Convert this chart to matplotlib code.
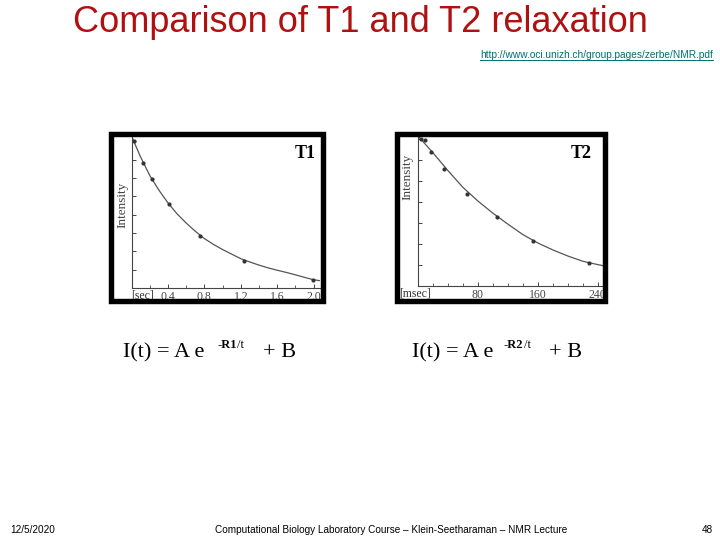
import numpy as np
import matplotlib
matplotlib.use('Agg')
import matplotlib.pyplot as plt
from matplotlib.patches import Rectangle
from matplotlib.lines import Line2D

# T1 panel (time in sec, intensity in arbitrary tick units)
t1_time = [0.03, 0.13, 0.22, 0.41, 0.75, 1.23, 1.99]
t1_int = [8.0, 6.8, 5.95, 4.6, 2.85, 1.5, 0.45]
t1_fit_time = [0.0, 0.1, 0.2, 0.3, 0.4, 0.5, 0.6, 0.7, 0.8, 0.9, 1.0, 1.1,
               1.2, 1.3, 1.4, 1.5, 1.6, 1.7, 1.8, 1.9, 2.0, 2.07]
t1_fit_int = [8.3, 7.15, 6.15, 5.35, 4.65, 4.05, 3.55, 3.1, 2.7, 2.38, 2.1, 1.85,
              1.6, 1.42, 1.25, 1.1, 0.97, 0.85, 0.72, 0.58, 0.45, 0.4]
t1_ticks = [0.4, 0.8, 1.2, 1.6, 2.0]
t1_ticklabels = ['0.4', '0.8', '1.2', '1.6', '2.0']

# T2 panel (time in msec)
t2_time = [4, 10, 17, 35, 66, 106, 153, 228]
t2_int = [7.0, 6.95, 6.4, 5.6, 4.4, 3.3, 2.15, 1.1]
t2_fit_time = [0, 20, 40, 60, 80, 100, 120, 140, 160, 180, 200, 220, 240, 247]
t2_fit_int = [7.15, 6.35, 5.5, 4.7, 4.05, 3.47, 2.95, 2.45, 2.05, 1.72, 1.43, 1.18, 1.02, 0.97]
t2_ticks = [80, 160, 240]
t2_ticklabels = ['80', '160', '240']

W, H = 720, 540
serif = ['Liberation Serif', 'DejaVu Serif']
sans = ['Liberation Sans', 'DejaVu Sans']


def fx(px):
    return px / W


def fy(py):
    return 1 - py / H


fig = plt.figure(figsize=(7.2, 5.4), dpi=100)
fig.patch.set_facecolor('white')


def panel(frame, axbox, xs, ys, fxs, fys, xlim, ylim, ticks, labels,
          minor, nyt, unit, unit_pos, name, name_pos, int_pos):
    # thick black frame around the panel
    x0, y0, x1, y1 = frame
    fig.add_artist(Rectangle((fx(x0 + 2.5), fy(y1 - 2.5)), (x1 - x0 - 5) / W,
                             (y1 - y0 - 5) / H, transform=fig.transFigure,
                             fill=False, lw=3.9, ec='black', zorder=5))
    l, t, r, b = axbox
    ax = fig.add_axes([fx(l), fy(b), (r - l) / W, (b - t) / H])
    ax.patch.set_alpha(0)
    ax.plot(fxs, fys, color='#555555', lw=0.9)
    ax.plot(xs, ys, 'o', ms=2.0, color='#333333')
    ax.set_xlim(xlim)
    ax.set_ylim(ylim)
    for s in ['top', 'right']:
        ax.spines[s].set_visible(False)
    for s in ['left', 'bottom']:
        ax.spines[s].set_color('#444444')
        ax.spines[s].set_linewidth(0.8)
    ax.set_xticks(ticks)
    ax.set_xticklabels(labels, family=serif, fontsize=8.5, color='#444444')
    ax.set_xticks(minor, minor=True)
    ax.set_yticks(np.arange(1, nyt + 1))
    ax.set_yticklabels([])
    ax.tick_params(direction='in', length=3, width=0.7, color='#444444', pad=2.5)
    ax.tick_params(which='minor', direction='in', length=2, width=0.6, color='#444444')
    fig.text(fx(unit_pos[0]), fy(unit_pos[1]), unit, family=serif, fontsize=8.5,
             color='#333333', ha='left', va='center')
    fig.text(fx(name_pos[0]), fy(name_pos[1]), name, family=serif, fontsize=13,
             weight='bold', ha='center', va='center')
    fig.text(fx(int_pos[0]), fy(int_pos[1]), 'Intensity', family=serif,
             fontsize=9.5, color='#444444', rotation=90, ha='center', va='center')
    return ax


panel((108, 132, 325, 303), (131.5, 136, 320, 288), t1_time, t1_int,
      t1_fit_time, t1_fit_int, (0, 2.07), (0, 8.3), t1_ticks, t1_ticklabels,
      np.arange(0.2, 2.1, 0.2), 8, '[sec]', (131, 295), 'T1', (305, 153), (122, 205))

panel((394, 132, 607, 303), (418, 136, 603, 286), t2_time, t2_int,
      t2_fit_time, t2_fit_int, (0, 247), (0, 7.15), t2_ticks, t2_ticklabels,
      np.arange(20, 247, 20), 7, '[msec]', (399, 293), 'T2', (581, 153), (407, 177))

# formulas under the panels
for x0, sub, xs, xsl, xp in [(123, '-R1', 218, 237, 263), (412, '-R2', 504, 524, 549)]:
    fig.text(fx(x0), fy(357), 'I(t) = A e', family=serif, fontsize=16, va='baseline')
    fig.text(fx(xs), fy(348), sub, family=serif, fontsize=9, weight='bold', va='baseline')
    fig.text(fx(xsl), fy(348), '/t', family=serif, fontsize=9, va='baseline')
    fig.text(fx(xp), fy(357), '+ B', family=serif, fontsize=16, va='baseline')

# title
fig.text(0.5, fy(23), 'Comparison of T1 and T2 relaxation', family=sans,
         fontsize=26, color='#B01010', ha='center', va='center')

# source link, underlined
url = fig.text(fx(713), fy(55), 'http://www.oci.unizh.ch/group.pages/zerbe/NMR.pdf',
               family=sans, fontsize=7.3, color='#007070', ha='right', va='center')
fig.canvas.draw()
bb = url.get_window_extent()
fig.add_artist(Line2D([bb.x0 / W, bb.x1 / W], [(bb.y0 + 0.5) / H] * 2,
                      transform=fig.transFigure, color='#007070', lw=0.7))

# footer
fig.text(fx(10), fy(530), '12/5/2020', family=sans, fontsize=7.2, va='center')
fig.text(fx(391), fy(530),
         'Computational Biology Laboratory Course \u2013 Klein-Seetharaman \u2013 NMR Lecture',
         family=sans, fontsize=7.2, ha='center', va='center')
fig.text(fx(713), fy(530), '48', family=sans, fontsize=7.2, ha='right', va='center')

plt.savefig('out.png', dpi=100)
